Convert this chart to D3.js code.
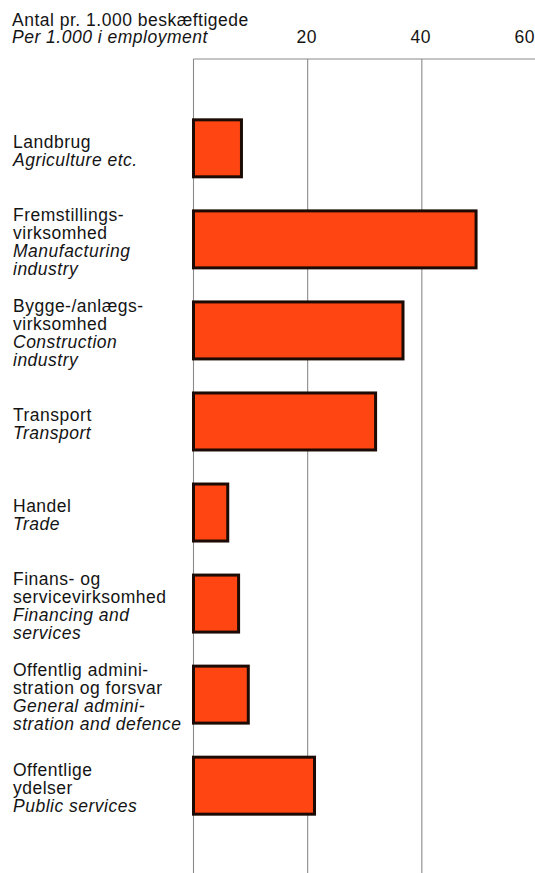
<!DOCTYPE html>
<html>
<head>
<meta charset="utf-8">
<script src="https://cdn.jsdelivr.net/npm/d3@7"></script>
<style>
  html, body { margin: 0; padding: 0; background: #fff; }
  svg { display: block; }
  text { font-family: "Liberation Sans", Arial, Helvetica, sans-serif; fill: #141414; letter-spacing: 0.5px; }
</style>
</head>
<body>
<svg id="chart" width="535" height="873"></svg>
<script>
// ---- data ----
const categoriesDa = [
  ["Landbrug"],
  ["Fremstillings-", "virksomhed"],
  ["Bygge-/anlægs-", "virksomhed"],
  ["Transport"],
  ["Handel"],
  ["Finans- og", "servicevirksomhed"],
  ["Offentlig admini-", "stration og forsvar"],
  ["Offentlige", "ydelser"]
];
const categoriesEn = [
  ["Agriculture etc."],
  ["Manufacturing", "industry"],
  ["Construction", "industry"],
  ["Transport"],
  ["Trade"],
  ["Financing and", "services"],
  ["General admini-", "stration and defence"],
  ["Public services"]
];
const values = [8.4, 49.5, 36.7, 31.9, 6.0, 7.9, 9.6, 21.2];
const tickValues = [0, 20, 40, 60];
const tickLabels = ["", "20", "40", "60"];
const titleLines = ["Antal pr. 1.000 beskæftigede", "Per 1.000 i employment"];

// ---- layout ----
const W = 535, H = 873;
const svg = d3.select("#chart");
const idx = d3.range(values.length);

const x = d3.scaleLinear().domain([0, 60]).range([193.5, 536]);
const y = d3.scaleBand().domain(idx).range([102.8, 831.2])
  .paddingInner(0.374).paddingOuter(0.187);

const gridTop = 59;
const FS = 17.5, LH = 17.8;

// gridlines
svg.append("g").selectAll("line").data(tickValues).join("line")
  .attr("x1", d => x(d)).attr("x2", d => x(d))
  .attr("y1", gridTop).attr("y2", H)
  .attr("stroke", "#8a8a8a").attr("stroke-width", 1.1);

// top line
svg.append("line")
  .attr("x1", x(0)).attr("x2", W)
  .attr("y1", gridTop).attr("y2", gridTop)
  .attr("stroke", "#8a8a8a").attr("stroke-width", 1.1);

// tick labels
svg.append("g").selectAll("text").data(tickValues).join("text")
  .attr("x", (d, i) => i === tickValues.length - 1 ? W : x(d) - 1)
  .attr("y", 43)
  .attr("text-anchor", (d, i) => i === tickValues.length - 1 ? "end" : "middle")
  .attr("font-size", FS)
  .text((d, i) => tickLabels[i]);

// title
svg.append("g").selectAll("text").data(titleLines).join("text")
  .attr("x", 12)
  .attr("y", (d, i) => 26 + i * 16.5)
  .attr("font-size", FS)
  .attr("font-style", (d, i) => i === 1 ? "italic" : "normal")
  .text(d => d);

// bars
svg.append("g").selectAll("rect").data(values).join("rect")
  .attr("x", x(0))
  .attr("y", (d, i) => y(i))
  .attr("width", d => x(d) - x(0))
  .attr("height", y.bandwidth())
  .attr("fill", "#ff4612")
  .attr("stroke", "#1c0a04")
  .attr("stroke-width", 3);

// category labels
const labelG = svg.append("g");
idx.forEach(i => {
  const lines = categoriesDa[i].map(t => ({ t, it: false }))
    .concat(categoriesEn[i].map(t => ({ t, it: true })));
  const n = lines.length;
  const cy = y(i) + y.bandwidth() / 2;
  const first = cy - (n - 1) * LH / 2 + 6.5 + 2;
  labelG.append("g").selectAll("text").data(lines).join("text")
    .attr("x", 13)
    .attr("y", (d, k) => first + k * LH)
    .attr("font-size", FS)
    .attr("font-style", d => d.it ? "italic" : "normal")
    .text(d => d.t);
});
</script>
</body>
</html>
